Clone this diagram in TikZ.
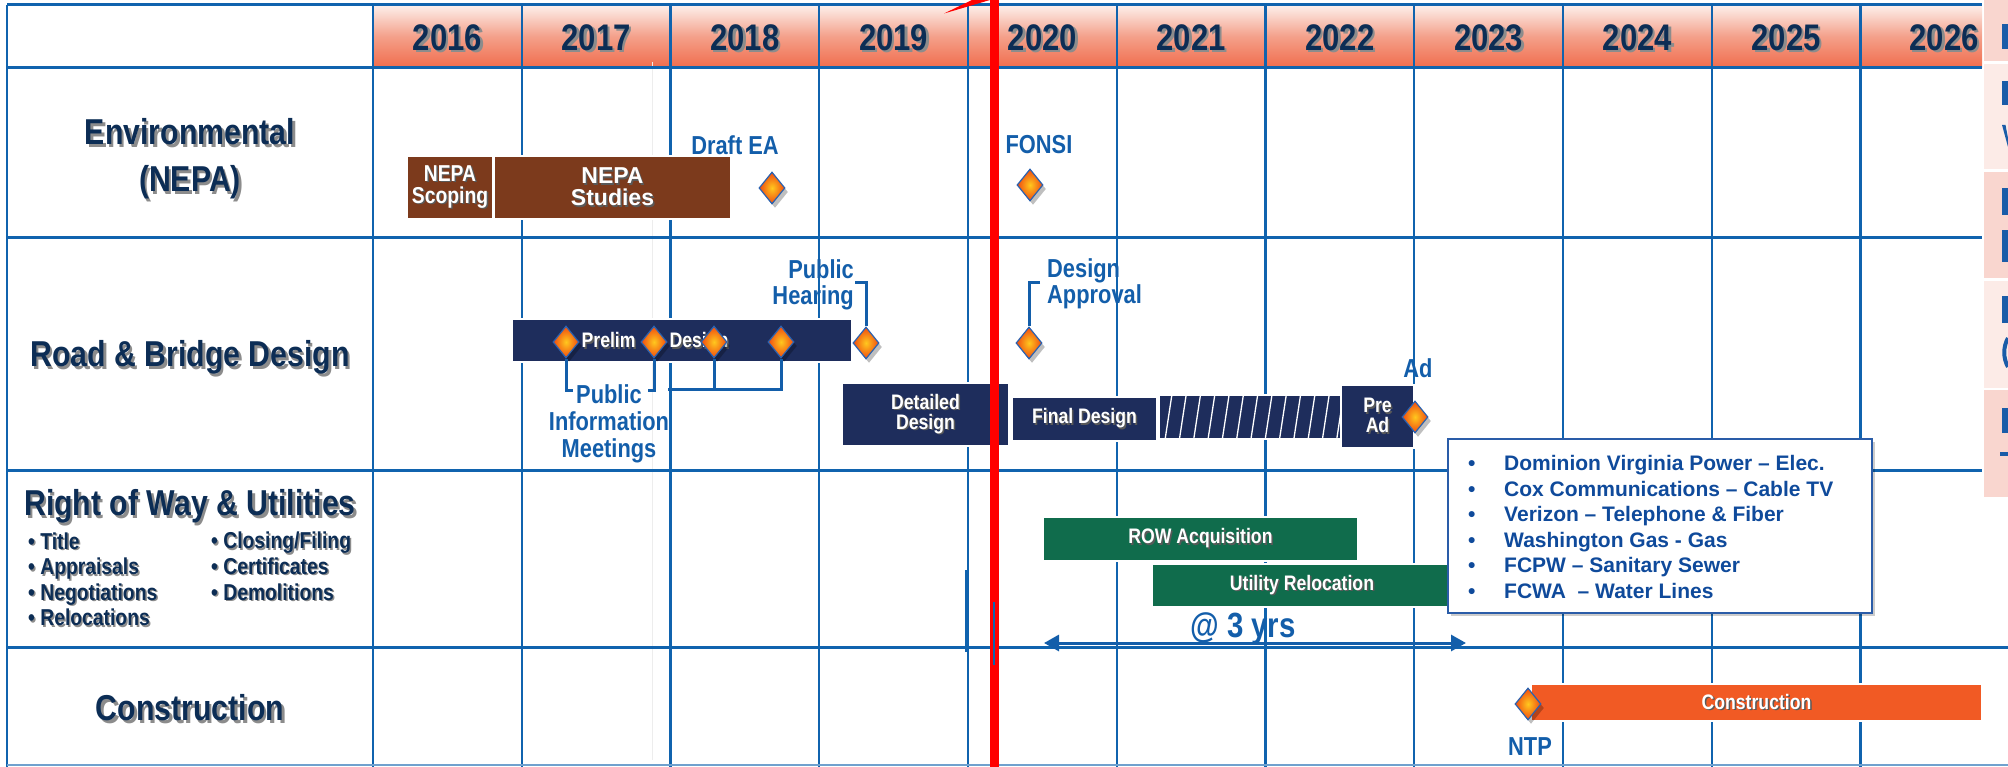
\documentclass[tikz,border=0pt]{standalone}
\usepackage{fontspec}
\setmainfont{Liberation Sans}
\newfontfamily\nar[FakeStretch=0.84]{Liberation Sans}
\usetikzlibrary{shapes.geometric,arrows.meta}
\definecolor{gridblue}{HTML}{1063AE}
\definecolor{navytxt}{HTML}{0C2D55}
\definecolor{lblue}{HTML}{135EAA}
\definecolor{nbrown}{HTML}{7C3A1C}
\definecolor{barnavy}{HTML}{1E2D5C}
\definecolor{rowgreen}{HTML}{106C4C}
\definecolor{conorange}{HTML}{F15A24}
\definecolor{listblue}{HTML}{0F4A9B}
\definecolor{listborder}{HTML}{2A5CA8}
\definecolor{hdtop}{HTML}{FDF0EC}
\definecolor{hdmid}{HTML}{F4A08A}
\definecolor{hdbot}{HTML}{F06C4C}
\definecolor{pinkA}{HTML}{F9D6CF}
\definecolor{pinkB}{HTML}{FCEBE7}
\definecolor{diayel}{HTML}{FFC81E}
\definecolor{diaorg}{HTML}{F04A10}
\definecolor{diablue}{HTML}{2A62B0}
\definecolor{fragblue}{HTML}{1A5CA8}
\newcommand\sht[1]{\makebox[0pt][l]{\hspace{2.5pt}\raisebox{-2.5pt}{\textcolor{black!45}{#1}}}#1}
\newcommand\ssh[1]{\makebox[0pt][l]{\hspace{1.5pt}\raisebox{-1.5pt}{\textcolor{black!45}{#1}}}#1}
\newcommand\wsh[1]{\makebox[0pt][l]{\hspace{1.5pt}\raisebox{-1.5pt}{\textcolor{black!65}{#1}}}#1}
\begin{document}
\begin{tikzpicture}[x=1pt,y=-1pt,
 gridv/.style={draw=gridblue,line width=2.4pt},
 gridh/.style={draw=gridblue,line width=3pt},
 year/.style={text=navytxt,font=\nar\bfseries\fontsize{37}{40}\selectfont,inner sep=0pt},
 rowlab/.style={text=navytxt,font=\nar\bfseries\fontsize{36}{47}\selectfont,align=center,inner sep=0pt},
 subitem/.style={text=navytxt,font=\nar\bfseries\fontsize{23}{25.6}\selectfont,align=left,inner sep=0pt,anchor=west},
 bar/.style={rectangle,draw=white,line width=1.5pt,inner sep=0pt,text=white,align=center,font=\nar\bfseries\fontsize{21}{20}\selectfont},
 navbar/.style={bar,fill=barnavy},
 brownbar/.style={bar,fill=nbrown,font=\bfseries\fontsize{23}{22}\selectfont},
 greenbar/.style={bar,fill=rowgreen},
 orangebar/.style={bar,fill=conorange},
 bartext/.style={text=white,font=\nar\bfseries\fontsize{21}{20}\selectfont,inner sep=0pt},
 mlab/.style={text=lblue,font=\nar\bfseries\fontsize{26}{26}\selectfont,inner sep=0pt},
 mile/.style={diamond,minimum width=26pt,minimum height=32pt,inner sep=0pt,draw=diablue,line width=1.2pt,inner color=diayel,outer color=diaorg,preaction={fill=black,fill opacity=0.25,transform canvas={shift={(3pt,-4pt)}}}},
 brk/.style={draw=lblue,line width=3pt},
 frag/.style={fill=fragblue},
]
\useasboundingbox (0,0) rectangle (2008,767);
% right-edge strips
\fill[pinkA] (1984,0) rectangle (2008,61);
\fill[pinkB] (1984,64) rectangle (2008,169);
\fill[pinkA] (1984,172) rectangle (2008,278);
\fill[pinkB] (1984,281) rectangle (2008,388);
\fill[pinkA] (1984,390) rectangle (2008,497);
\fill[frag] (2002,24) rectangle (2008,49);
\fill[frag] (2002,81) rectangle (2008,105);
\fill[frag] (2002,125) -- (2005.5,125) -- (2008,138) -- (2008,147) -- cycle;
\fill[frag] (2002,188) rectangle (2008,215);
\fill[frag] (2002,230) rectangle (2008,262);
\fill[frag] (2002,296) rectangle (2008,323);
\draw[fragblue,line width=4pt] (2008,338) .. controls (2003,347) and (2003,358) .. (2008,367);
\fill[frag] (2002,408) rectangle (2008,433);
\fill[frag] (2000,452) rectangle (2008,456);
% header
\shade[top color=hdtop,bottom color=hdbot,middle color=hdmid] (373,5) rectangle (1982,68);
% faint line
\draw[black!7,line width=1pt] (652,62) -- (652,760);
% grid
\foreach \x in {7,373,521.75,670.5,819.25,968,1116.75,1265.5,1414.25,1563,1711.75,1860.5}
  \draw[gridv] (\x,5) -- (\x,767);
\foreach \y in {5,68,238,470}
  \draw[gridh] (7,\y) -- (1982,\y);
\draw[gridh] (7,647) -- (2008,647);
\draw[draw=gridblue!60,line width=2pt] (7,765) -- (2008,765);
% years
\foreach \yr/\cx in {2016/447.4,2017/596.1,2018/744.9,2019/893.6,2020/1042.4,2021/1191.1,2022/1339.9,2023/1488.6,2024/1637.4,2025/1786.1,2026/1944}
  \node[year] (y\yr) at (\cx,39) {\sht{\yr}};
% row labels
\node[rowlab] (env) at (190,160) {\sht{Environmental}\\\sht{(NEPA)}};
\node[rowlab] (road) at (190,359) {\sht{Road \& Bridge Design}};
\node[rowlab] (rowu) at (190,508) {\sht{Right of Way \& Utilities}};
\node[subitem] (rowa) at (28,580) {\ssh{• Title}\\\ssh{• Appraisals}\\\ssh{• Negotiations}\\\ssh{• Relocations}};
\node[subitem] (rowb) at (211,567) {\ssh{• Closing/Filing}\\\ssh{• Certificates}\\\ssh{• Demolitions}};
\node[rowlab] (cons) at (190,709) {\sht{Construction}};
% environmental bars
\node[brownbar,minimum width=86pt,minimum height=63pt,font=\nar\bfseries\fontsize{23}{22}\selectfont] (scop) at (450,187.5) {\wsh{NEPA}\\\wsh{Scoping}};
\node[brownbar,minimum width=237pt,minimum height=63pt] (stud) at (612.5,187.5) {\wsh{NEPA}\\\wsh{Studies}};
% design bars
\node[navbar,minimum width=340pt,minimum height=43pt] (prel) at (682,340.5) {};
\node[bartext] (prelt) at (655,343) {\wsh{Prelim}\hspace{34pt}\wsh{Design}};
\node[navbar,minimum width=167pt,minimum height=63pt] (det) at (925.5,414.5) {\wsh{Detailed}\\\wsh{Design}};
\node[navbar,minimum width=145pt,minimum height=44pt] (fin) at (1084.5,419) {\wsh{Final Design}};
\node[navbar,minimum width=183pt,minimum height=44pt] (hat) at (1250.5,417) {};
\begin{scope}
\clip (1160,396) rectangle (1341,438);
\foreach \i in {0,...,12}
  \draw[white,line width=1.3pt] (1165+14.3*\i,440) -- (1172+14.3*\i,394);
\end{scope}
\node[navbar,minimum width=73pt,minimum height=63pt] (pre) at (1377.5,416.5) {\wsh{Pre}\\\wsh{Ad}};
% ROW bars
\node[greenbar,minimum width=315pt,minimum height=44pt] (rowacq) at (1200.5,539) {\wsh{ROW Acquisition}};
\node[greenbar,minimum width=300pt,minimum height=43pt] (urel) at (1302,585.5) {\wsh{Utility Relocation}};
% utilities list
\node[rectangle,draw=listborder,line width=2pt,fill=white,minimum width=424pt,minimum height=174pt,inner sep=0pt,preaction={fill=black,fill opacity=0.2,transform canvas={shift={(3pt,-3pt)}}}] (ubox) at (1660,526) {};
\node[anchor=west,inner sep=0pt,align=left,text=listblue,font=\bfseries\fontsize{21}{25.6}\selectfont] (ulist) at (1468,527)
 {\makebox[36pt][l]{•}Dominion Virginia Power – Elec.\\
  \makebox[36pt][l]{•}Cox Communications – Cable TV\\
  \makebox[36pt][l]{•}Verizon – Telephone \& Fiber\\
  \makebox[36pt][l]{•}Washington Gas - Gas\\
  \makebox[36pt][l]{•}FCPW – Sanitary Sewer\\
  \makebox[36pt][l]{•}FCWA\ \ – Water Lines};
% construction bar
\node[orangebar,minimum width=451pt,minimum height=37pt] (conbar) at (1756.5,702.5) {\wsh{Construction}};
% milestones
\node[mile] (dea) at (772,188) {};
\node[mile] (fon) at (1030,185) {};
\node[mile] (pm1) at (566,342) {};
\node[mile] (pm2) at (654,342) {};
\node[mile] (pm3) at (714,342) {};
\node[mile] (pm4) at (781,342) {};
\node[mile] (ph) at (866,343) {};
\node[mile] (da) at (1029,343) {};
\node[mile] (ad) at (1415,417) {};
\node[mile] (ntp) at (1528,704) {};
% milestone labels
\node[mlab] (deal) at (735,145) {Draft EA};
\node[mlab] (fonl) at (1039,145) {FONSI};
\node[mlab,align=right,anchor=east] (phl) at (854,285) {Public\\Hearing};
\node[mlab,align=left,anchor=west] (dal) at (1047,284) {Design\\Approval};
\node[mlab,align=center,font=\nar\bfseries\fontsize{26}{27}\selectfont] (piml) at (609,424) {Public\\Information\\Meetings};
\node[mlab] (adl) at (1418,368) {Ad};
\node[mlab] (ntpl) at (1530,747) {NTP};
\node[mlab,font=\nar\bfseries\fontsize{35}{36}\selectfont] (yrs) at (1243,629) {@ 3 yrs};
% brackets
\coordinate (phk) at (855,283);
\coordinate (dak) at (1040,283);
\coordinate (p1k) at (573,390);
\coordinate (p2k) at (648,390);
\coordinate (p34k) at (668,389);
\draw[brk] (phk) -| (ph.north);
\draw[brk] (dak) -| (da.north);
\draw[brk] (pm1.south) |- (p1k);
\draw[brk] (pm2.south) |- (p2k);
\draw[brk] (pm4.south) |- (p34k);
\draw[brk] (pm3.south) -- (pm3.south |- p34k);
% duration arrow
\coordinate (arL) at (1044,643);
\coordinate (arR) at (1466,643);
\draw[lblue,line width=3pt,{Triangle[length=15pt,width=16pt]}-{Triangle[length=15pt,width=16pt]}] (arL) -- (arR);
% red marker
\fill[red] (990,0) rectangle (999,767);
\fill[red] (944,13.5) -- (972,0) -- (990,0) -- cycle;
\draw[gridblue,line width=2pt] (966,570) -- (966,652);
\draw[gridblue,line width=1.5pt] (994,602) -- (994,665);
\end{tikzpicture}
\end{document}
